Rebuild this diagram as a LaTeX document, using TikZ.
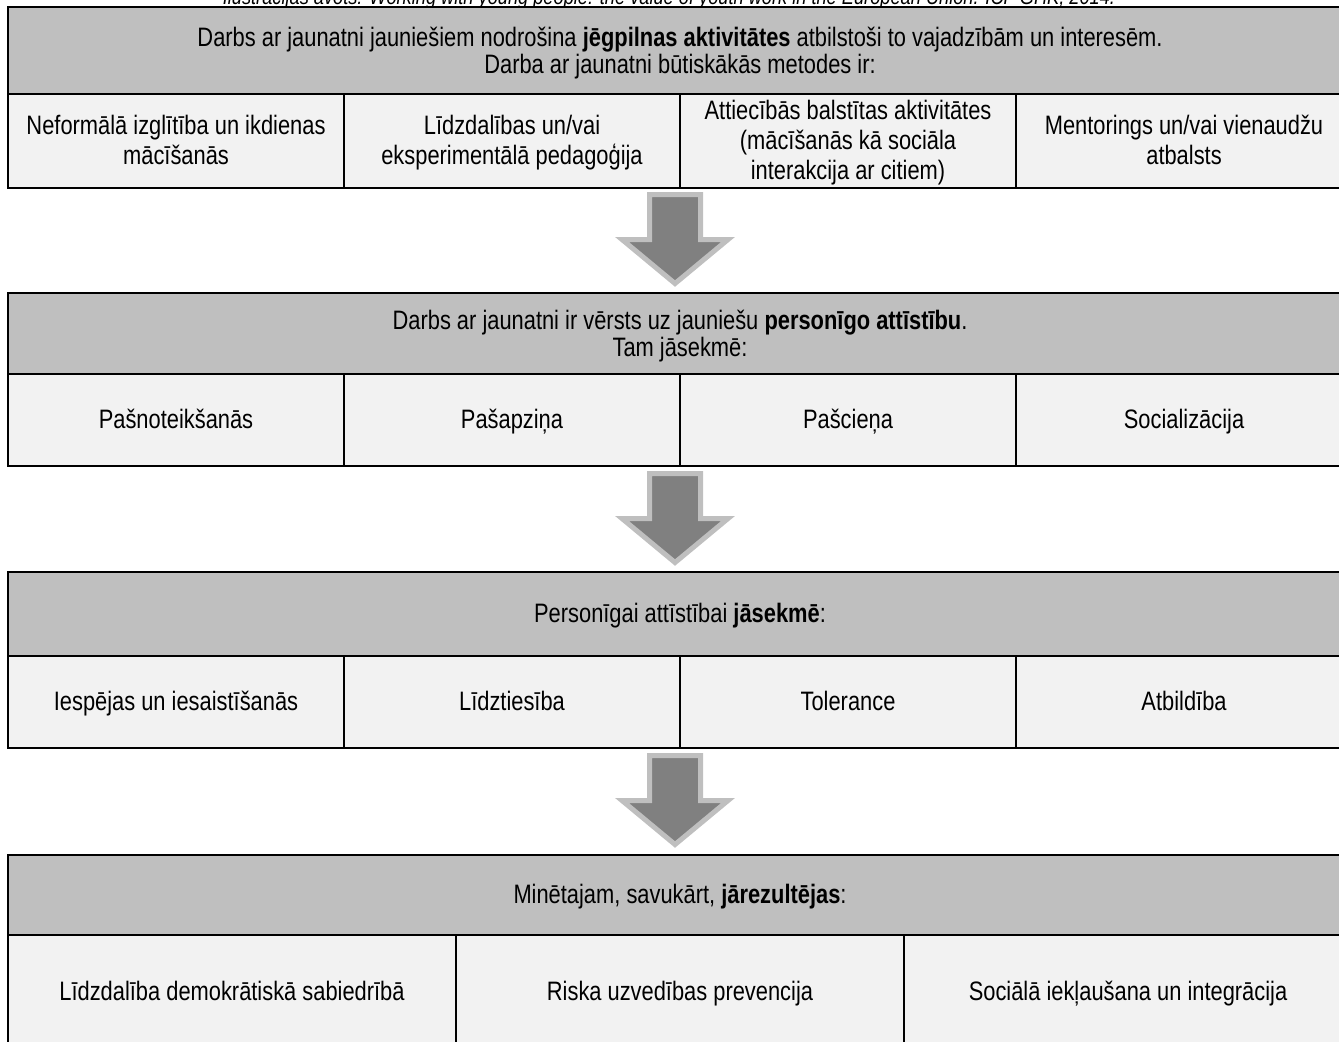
\documentclass[tikz,border=0pt]{standalone}
\usepackage{fontspec}
\setmainfont[FakeStretch=0.82]{Liberation Sans}
\usetikzlibrary{calc}
\setlength\lineskiplimit{-100pt}
\definecolor{hdrgray}{RGB}{191,191,191}
\definecolor{cellgray}{RGB}{242,242,242}
\definecolor{arrfill}{RGB}{128,128,128}
\definecolor{arredge}{RGB}{191,191,191}
\newcommand\tstrut{\rule{0pt}{11pt}}
\newcommand\hstrut{\rule{0pt}{11.3pt}}
\newcommand\bstrut{\rule[-3.2pt]{0pt}{3.2pt}}
\tikzset{
  base/.style={inner sep=0pt, outer sep=0pt, anchor=north west, align=center,
    font=\fontsize{12pt}{13.5pt}\selectfont, draw=black, line width=0.6pt},
  hdr/.style={base, fill=hdrgray, minimum width=604.8pt,
    font=\fontsize{12pt}{12.15pt}\selectfont},
  cellfour/.style={base, fill=cellgray, minimum width=151.2pt},
  cellthree/.style={base, fill=cellgray, minimum width=201.6pt},
  outer/.style={draw=black, line width=0.9pt},
  caption/.style={font=\fontsize{10pt}{12pt}\selectfont\itshape, anchor=base, inner sep=0pt},
  downarrow/.pic={
    \draw[fill=arrfill, draw=arredge, line width=2.25pt, line join=miter]
      (-25.5,2.5) -- (25.5,2.5) -- (25.5,47.5) -- (53,47.5) -- (0,91.5)
      -- (-53,47.5) -- (-25.5,47.5) -- cycle;
  }
}
\begin{document}
\begin{tikzpicture}[x=0.45pt, y=-0.45pt]
\useasboundingbox (0,0) rectangle (1339,1041);

\node[caption] (cap) at (669,4) {Ilustrācijas avots: Working with young people: the value of youth work in the European Union. ICF GHK, 2014.};

% Table 1
\node[hdr, minimum height=39.15pt] (h1) at (8,7)
  {\hstrut Darbs ar jaunatni jauniešiem nodrošina \textbf{jēgpilnas aktivitātes} atbilstoši to vajadzībām un interesēm.\\ Darba ar jaunatni būtiskākās metodes ir:\bstrut};
\node[cellfour, minimum height=42.3pt] (c11) at (h1.south west) {\tstrut Neformālā izglītība un ikdienas\\ mācīšanās\bstrut};
\node[cellfour, minimum height=42.3pt] (c12) at (c11.north east) {\tstrut Līdzdalības un/vai\\ eksperimentālā pedagoģija\bstrut};
\node[cellfour, minimum height=42.3pt] (c13) at (c12.north east) {\tstrut Attiecībās balstītas aktivitātes\\ (mācīšanās kā sociāla\\ interakcija ar citiem)\bstrut};
\node[cellfour, minimum height=42.3pt] (c14) at (c13.north east) {\tstrut Mentorings un/vai vienaudžu\\ atbalsts\bstrut};
\draw[outer] (h1.north west) rectangle (c14.south east);
\draw[outer] (h1.south west) -- (h1.south east);

\pic at (675,192) {downarrow};

% Table 2
\node[hdr, minimum height=36.45pt] (h2) at (8,293)
  {\hstrut Darbs ar jaunatni ir vērsts uz jauniešu \textbf{personīgo attīstību}.\\ Tam jāsekmē:\bstrut};
\node[cellfour, minimum height=41.4pt] (c21) at (h2.south west) {\tstrut Pašnoteikšanās\bstrut};
\node[cellfour, minimum height=41.4pt] (c22) at (c21.north east) {\tstrut Pašapziņa\bstrut};
\node[cellfour, minimum height=41.4pt] (c23) at (c22.north east) {\tstrut Pašcieņa\bstrut};
\node[cellfour, minimum height=41.4pt] (c24) at (c23.north east) {\tstrut Socializācija\bstrut};
\draw[outer] (h2.north west) rectangle (c24.south east);
\draw[outer] (h2.south west) -- (h2.south east);

\pic at (675,471) {downarrow};

% Table 3
\node[hdr, minimum height=37.8pt] (h3) at (8,572)
  {\tstrut Personīgai attīstībai \textbf{jāsekmē}:\bstrut};
\node[cellfour, minimum height=41.4pt] (c31) at (h3.south west) {\tstrut Iespējas un iesaistīšanās\bstrut};
\node[cellfour, minimum height=41.4pt] (c32) at (c31.north east) {\tstrut Līdztiesība\bstrut};
\node[cellfour, minimum height=41.4pt] (c33) at (c32.north east) {\tstrut Tolerance\bstrut};
\node[cellfour, minimum height=41.4pt] (c34) at (c33.north east) {\tstrut Atbildība\bstrut};
\draw[outer] (h3.north west) rectangle (c34.south east);
\draw[outer] (h3.south west) -- (h3.south east);

\pic at (675,753) {downarrow};

% Table 4
\node[hdr, minimum height=36pt] (h4) at (8,855)
  {\tstrut Minētajam, savukārt, \textbf{jārezultējas}:\bstrut};
\node[cellthree, minimum height=51.3pt, line width=0.9pt] (c41) at (h4.south west) {\tstrut Līdzdalība demokrātiskā sabiedrībā\bstrut};
\node[cellthree, minimum height=51.3pt, line width=0.9pt] (c42) at (c41.north east) {\tstrut Riska uzvedības prevencija\bstrut};
\node[cellthree, minimum height=51.3pt, line width=0.9pt] (c43) at (c42.north east) {\tstrut Sociālā iekļaušana un integrācija\bstrut};
\draw[outer] (h4.north west) rectangle (c43.south east);
\draw[outer] (h4.south west) -- (h4.south east);
\end{tikzpicture}
\end{document}
